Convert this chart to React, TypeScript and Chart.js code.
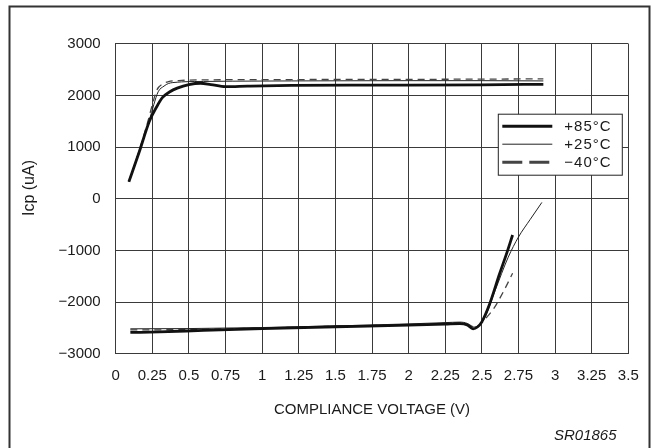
import React, { useEffect, useRef } from 'react';
import { Chart, registerables } from 'chart.js';

Chart.register(...registerables);

// ---------- data ----------
const xTickLabels = ['0', '0.25', '0.5', '0.75', '1', '1.25', '1.5', '1.75', '2', '2.25', '2.5', '2.75', '3', '3.25', '3.5'];
const yTickLabels = ['−3000', '−2000', '−1000', '0', '1000', '2000', '3000'];
const seriesNames = ['+85°C', '+25°C', '−40°C'];
const xTitle = 'COMPLIANCE VOLTAGE (V)';
const yTitle = 'Icp (uA)';
const figureCode = 'SR01865';

// upper branch (sourcing current)
const topV85 = [0.09, 0.16, 0.23, 0.28, 0.32, 0.37, 0.42, 0.5, 0.58, 0.65, 0.75, 0.9, 1.2, 1.6, 2.0, 2.5, 2.92];
const topI85 = [330, 900, 1500, 1780, 1960, 2070, 2140, 2210, 2235, 2210, 2170, 2180, 2195, 2200, 2200, 2205, 2215];
const topV25 = [0.09, 0.16, 0.23, 0.26, 0.29, 0.33, 0.36, 0.42, 0.48, 0.6, 0.8, 1.2, 1.6, 2.0, 2.5, 2.92];
const topI25 = [330, 920, 1520, 1820, 2070, 2180, 2230, 2255, 2265, 2270, 2275, 2280, 2283, 2285, 2285, 2280];
const topVm40 = [0.09, 0.16, 0.22, 0.25, 0.28, 0.32, 0.36, 0.45, 0.6, 1.0, 1.5, 2.0, 2.5, 2.92];
const topIm40 = [330, 930, 1500, 1820, 2100, 2220, 2265, 2290, 2300, 2305, 2308, 2310, 2315, 2320];

// lower branch (sinking current)
const botV85 = [0.1, 0.3, 0.6, 1.0, 1.5, 2.0, 2.25, 2.35, 2.4, 2.44, 2.47, 2.5, 2.55, 2.62, 2.67, 2.71];
const botI85 = [-2585, -2575, -2545, -2510, -2475, -2445, -2425, -2415, -2440, -2515, -2480, -2380, -2060, -1460, -1050, -700];
const botV25 = [0.1, 0.5, 1.0, 1.5, 2.0, 2.25, 2.35, 2.4, 2.44, 2.48, 2.52, 2.59, 2.68, 2.75, 2.83, 2.91];
const botI25 = [-2515, -2510, -2490, -2460, -2420, -2395, -2385, -2410, -2480, -2450, -2300, -1780, -1130, -740, -400, -70];
const botVm40 = [0.1, 0.5, 1.0, 1.5, 2.0, 2.25, 2.35, 2.4, 2.45, 2.5, 2.54, 2.58, 2.65, 2.71];
const botIm40 = [-2535, -2530, -2500, -2465, -2435, -2410, -2400, -2420, -2480, -2400, -2270, -2130, -1780, -1440];

// ---------- styles ----------
const FONT = '"Liberation Sans", Arial, Helvetica, sans-serif';
const TEXT = '#1a1a1a';
const GRID = '#3a3a3a';
const lineStyles = [
  { color: '#111111', width: 2.8, dash: [] as number[], legendWidth: 3, legendDash: [] as number[] },
  { color: '#222222', width: 1, dash: [] as number[], legendWidth: 1, legendDash: [] as number[] },
  { color: '#444444', width: 1.3, dash: [7, 5], legendWidth: 3, legendDash: [20, 7] },
];

const pts = (v: number[], i: number[]) => v.map((x, k) => ({ x, y: i[k] }));

const branches = [
  [pts(topV85, topI85), pts(botV85, botI85)],
  [pts(topV25, topI25), pts(botV25, botI25)],
  [pts(topVm40, topIm40), pts(botVm40, botIm40)],
];

const decorPlugin = {
  id: 'decor',
  beforeDraw(chart: any) {
    const { ctx, width, height } = chart;
    ctx.save();
    ctx.fillStyle = '#ffffff';
    ctx.fillRect(0, 0, width, height);
    ctx.restore();
  },
  afterDraw(chart: any) {
    const { ctx, chartArea } = chart;
    ctx.save();
    // frame
    ctx.strokeStyle = '#333333';
    ctx.lineWidth = 2;
    ctx.strokeRect(9.5, 6.5, 640, 470);

    // axis titles
    ctx.fillStyle = TEXT;
    ctx.font = `15px ${FONT}`;
    ctx.textAlign = 'center';
    ctx.textBaseline = 'middle';
    ctx.fillText(xTitle, (chartArea.left + chartArea.right) / 2, 410);
    ctx.save();
    ctx.translate(30, 188);
    ctx.rotate(-Math.PI / 2);
    ctx.font = `16px ${FONT}`;
    ctx.fillText(yTitle, 0, 0);
    ctx.restore();

    // figure code
    ctx.font = `italic 15px ${FONT}`;
    ctx.textAlign = 'left';
    ctx.fillText(figureCode, 554, 436);

    // legend
    const bx = chartArea.right - 130;
    const by = chartArea.top + 70.5;
    const bw = 124;
    const bh = 61;
    ctx.fillStyle = '#ffffff';
    ctx.fillRect(bx, by, bw, bh);
    ctx.strokeStyle = '#222222';
    ctx.lineWidth = 1;
    ctx.strokeRect(bx, by, bw, bh);
    ctx.font = `15px ${FONT}`;
    ctx.textBaseline = 'middle';
    ctx.textAlign = 'left';
    try { (ctx as any).letterSpacing = '1px'; } catch (e) { /* ignore */ }
    seriesNames.forEach((name, k) => {
      const st = lineStyles[k];
      const yy = by + 12 + k * 18;
      ctx.beginPath();
      ctx.strokeStyle = st.color;
      ctx.lineWidth = st.legendWidth;
      ctx.setLineDash(st.legendDash);
      ctx.moveTo(bx + 4, yy);
      ctx.lineTo(bx + 54, yy);
      ctx.stroke();
      ctx.setLineDash([]);
      ctx.fillStyle = TEXT;
      ctx.fillText(name, bx + 66, yy + 1);
    });
    try { (ctx as any).letterSpacing = '0px'; } catch (e) { /* ignore */ }
    ctx.restore();
  },
};

export default function App() {
  const ref = useRef<HTMLCanvasElement | null>(null);

  useEffect(() => {
    document.body.style.margin = '0';
    const canvas = ref.current;
    if (!canvas) return;

    const datasets: any[] = [];
    branches.forEach((pair, k) => {
      const st = lineStyles[k];
      pair.forEach((data) => {
        datasets.push({
          label: seriesNames[k],
          data,
          showLine: true,
          borderColor: st.color,
          backgroundColor: st.color,
          borderWidth: st.width,
          borderDash: st.dash,
          pointRadius: 0,
          cubicInterpolationMode: 'monotone',
          fill: false,
        });
      });
    });

    const chart = new Chart(canvas, {
      type: 'scatter',
      data: { datasets },
      options: {
        animation: false,
        responsive: false,
        devicePixelRatio: 1,
        layout: { padding: { left: 0, right: 23.7, top: 43.7, bottom: 0 } },
        plugins: {
          legend: { display: false },
          tooltip: { enabled: false },
        },
        scales: {
          x: {
            type: 'linear',
            min: 0,
            max: 3.5,
            afterFit: (scale: any) => { scale.height = 94.1; },
            ticks: {
              stepSize: 0.25,
              padding: 13,
              color: TEXT,
              font: { family: FONT, size: 15 },
              maxRotation: 0,
              autoSkip: false,
              callback: (_v: any, i: number) => xTickLabels[i],
            },
            grid: { color: GRID, lineWidth: 1, drawTicks: false },
            border: { display: true, color: GRID, width: 1 },
          },
          y: {
            type: 'linear',
            min: -3000,
            max: 3000,
            afterFit: (scale: any) => { scale.width = 115.7; },
            ticks: {
              stepSize: 1000,
              padding: 15,
              color: TEXT,
              font: { family: FONT, size: 15 },
              autoSkip: false,
              callback: (_v: any, i: number) => yTickLabels[i],
            },
            grid: { color: GRID, lineWidth: 1, drawTicks: false },
            border: { display: true, color: GRID, width: 1 },
          },
        },
      },
      plugins: [decorPlugin],
    });

    return () => chart.destroy();
  }, []);

  return (
    <div style={{ width: 652, height: 448 }}>
      <canvas ref={ref} width={652} height={448} style={{ display: 'block', width: 652, height: 448 }} />
    </div>
  );
}
